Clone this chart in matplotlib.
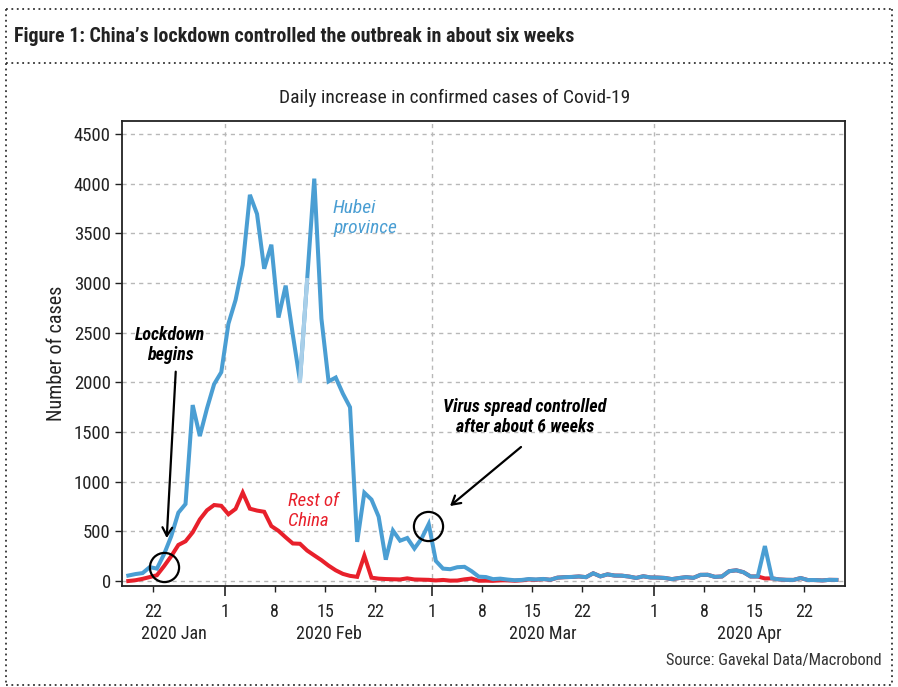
import matplotlib
matplotlib.use('Agg')
import matplotlib.pyplot as plt
import matplotlib.dates as mdates
import matplotlib.ticker as mticker
from matplotlib.lines import Line2D
from matplotlib import font_manager
import pandas as pd

# ---------------- data ----------------
start_date = '2020-01-18'
hubei_cases = [55, 70, 80, 140, 125, 270, 450, 688, 775,
               1771, 1459, 1737, 1982, 2102,
               2590, 2829, 3180, 3887, 3694, 3143, 3385, 2652, 2973, 2480,
               2015, 3030, 4050, 2641, 2009, 2048, 1886, 1749, 394, 889,
               820, 648, 215, 508, 406, 433, 327, 427, 573,
               202, 125, 119, 139, 143, 99, 44, 40, 19, 24,
               15, 8, 11, 20, 16, 21, 13, 34, 39, 41,
               46, 39, 78, 47, 67, 55, 54, 45, 31, 48, 36,
               35, 31, 19, 30, 39, 32, 62, 63, 42, 46,
               99, 108, 89, 46, 46, 352, 27, 16, 12, 11,
               30, 10, 10, 6, 12, 11]
rest_cases = [0, 8, 22, 40, 58, 150, 250, 363, 400,
              490, 620, 712, 765, 757,
              672, 726, 890, 728, 709, 697, 553, 505, 440, 378,
              375, 307, 258, 210, 155, 108, 72, 52, 42, 255,
              34, 24, 20, 18, 16, 27, 16, 14, 12,
              6, 11, 4, 5, 17, 25, 3, 4, 2, 7,
              7, 3, 7, 16, 12, 20, 12, 34, 39, 41,
              46, 39, 78, 47, 67, 55, 54, 45, 31, 48, 36,
              35, 31, 19, 30, 39, 32, 62, 63, 42, 46,
              99, 108, 89, 46, 46, 26, 27, 16, 12, 11,
              30, 10, 10, 6, 12, 11]
gap_dates = ['2020-02-11', '2020-02-12']   # lighter (estimated) segment
y_ticks = [0, 500, 1000, 1500, 2000, 2500, 3000, 3500, 4000, 4500]
month_labels = ['2020 Jan', '2020 Feb', '2020 Mar', '2020 Apr']
week_days = [8, 15, 22]

BLUE = '#4a9ed3'
LIGHT_BLUE = '#a9cfe9'
RED = '#e8202b'

available = {f.name for f in font_manager.fontManager.ttflist}
cands = ['Roboto Condensed', 'Open Sans Condensed', 'Liberation Sans Narrow',
         'DejaVu Sans Condensed', 'Lato', 'Roboto']
FONT = [c for c in cands if c in available] + ['DejaVu Sans']
plt.rcParams['font.family'] = FONT

W, H = 898, 687
fig = plt.figure(figsize=(W / 100, H / 100), dpi=100)
ax_l, ax_r, ax_t, ax_b = 122, 845, 121, 586
ax = fig.add_axes([ax_l / W, 1 - ax_b / H, (ax_r - ax_l) / W, (ax_b - ax_t) / H])

dates = pd.date_range(start_date, periods=len(hubei_cases), freq='D')
x = mdates.date2num(dates) + 0.5

ax.plot(x, rest_cases, color=RED, lw=2.9, solid_joinstyle='miter', zorder=3)
ax.plot(x, hubei_cases, color=BLUE, lw=2.9, solid_joinstyle='miter', zorder=4)
gmask = (dates >= pd.Timestamp(gap_dates[0])) & (dates <= pd.Timestamp(gap_dates[1]))
ax.plot(x[gmask], [v for v, m in zip(hubei_cases, gmask) if m],
        color=LIGHT_BLUE, lw=2.9, zorder=5)

ref = mdates.date2num(pd.Timestamp('2020-01-22'))
ax.set_xlim(ref - 4.38, ref + 96.7)
ax.set_ylim(-50, 4630)

ax.set_yticks(y_ticks)
ax.yaxis.set_major_formatter(mticker.FuncFormatter(lambda v, p: f'{int(v)}'))
ax.xaxis.set_major_locator(mdates.MonthLocator())
ax.xaxis.set_minor_locator(mdates.DayLocator(bymonthday=week_days))
dayfmt = mticker.FuncFormatter(lambda v, p: str(mdates.num2date(v).day))
ax.xaxis.set_major_formatter(dayfmt)
ax.xaxis.set_minor_formatter(dayfmt)

ax.tick_params(axis='x', which='major', length=7, width=1.2, pad=5,
               labelsize=13, colors='#222222')
ax.tick_params(axis='x', which='minor', length=4, width=1.0, pad=8,
               labelsize=13, colors='#222222')
ax.tick_params(axis='y', length=5, width=1.0, pad=3, labelsize=13.5,
               colors='#222222')

ax.yaxis.grid(True, ls=(0, (3, 3)), color='#b8b8b8', lw=1)
ax.xaxis.grid(True, which='major', ls=(0, (3, 3)), color='#b8b8b8', lw=1)
ax.set_axisbelow(True)
for s in ax.spines.values():
    s.set_color('#222222')
    s.set_linewidth(1.3)

# month labels centred on visible span
x0, x1 = ax.get_xlim()
axh = ax_b - ax_t
for i, lab in enumerate(month_labels):
    ms = mdates.date2num(pd.Timestamp(2020, i + 1, 1))
    me = mdates.date2num(pd.Timestamp(2020, i + 2, 1))
    a, b = max(ms, x0), min(me, x1)
    ax.text((a + b) / 2, -(634 - ax_b) / axh, lab, transform=ax.get_xaxis_transform(),
            ha='center', va='center', fontsize=13, color='#222222')

ax.set_ylabel('Number of cases', fontsize=14.5, color='#222222')
ax.yaxis.set_label_coords(-(ax_l - 66) / (ax_r - ax_l), 0.5)

# ---- annotations ----
def dx(px):
    return ref + (px - 153.3) / 7.153

def dy(py):
    return (581 - py) / 0.09933

ax.text(dx(333), dy(218), 'Hubei\nprovince', color=BLUE, fontsize=14, style='italic',
        ha='left', va='center', linespacing=1.15)
ax.text(dx(288), dy(511), 'Rest of\nChina', color=RED, fontsize=13.5, style='italic',
        ha='left', va='center', linespacing=1.15)
ax.text(dx(170), dy(345), 'Lockdown\nbegins', color='black', fontsize=13, style='italic',
        weight='bold', ha='center', va='center', linespacing=1.2)
ax.text(dx(525), dy(417), 'Virus spread controlled\nafter about 6 weeks', color='black',
        fontsize=13, style='italic', weight='bold', ha='center', va='center',
        linespacing=1.2)
ax.annotate('', xy=(dx(166.7), dy(538)), xytext=(dx(175.7), dy(371.7)),
            arrowprops=dict(arrowstyle='->,head_length=0.6,head_width=0.35', lw=1.6,
                            color='black', shrinkA=0, shrinkB=0), zorder=6)
ax.annotate('', xy=(dx(450), dy(506)), xytext=(dx(521), dy(447)),
            arrowprops=dict(arrowstyle='->,head_length=0.6,head_width=0.35', lw=1.6,
                            color='black', shrinkA=0, shrinkB=0), zorder=6)
for cx, cy in [(164.3, 566.7), (428.3, 526)]:
    ax.plot([dx(cx)], [dy(cy)], marker='o', ms=21, mfc='none', mec='black', mew=1.6,
            zorder=7, clip_on=False)

# ---- titles / frame ----
fig.text(14 / W, 1 - 37 / H, "Figure 1: China\u2019s lockdown controlled the outbreak in about six weeks",
         fontsize=14.4, weight='bold', ha='left', va='center', color='#222222')
fig.text(455 / W, 1 - 98 / H, 'Daily increase in confirmed cases of Covid-19',
         fontsize=14, ha='center', va='center', color='#222222')
fig.text(882 / W, 1 - 660 / H, 'Source: Gavekal Data/Macrobond', fontsize=11.8,
         ha='right', va='center', color='#333333')

def fline(xs, ys):
    fig.add_artist(Line2D([v / W for v in xs], [1 - v / H for v in ys],
                          transform=fig.transFigure, ls=(0, (1, 2)), lw=1.3,
                          color='#333333'))

L, R, T, B, S = 6, 892, 9, 685, 63
fline([L, R], [T, T])
fline([L, R], [B, B])
fline([L, L], [T, B])
fline([R, R], [T, B])
fline([L, R], [S, S])

fig.savefig('out.png', dpi=100)
